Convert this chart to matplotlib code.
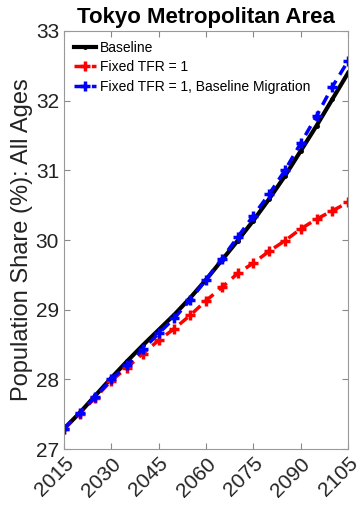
import matplotlib
matplotlib.use("Agg")
from matplotlib import pyplot as plt

plt.rcParams['font.family'] = ['Liberation Sans', 'DejaVu Sans']

years = list(range(2015, 2106, 5))
baseline = [27.29, 27.52, 27.77, 28.02, 28.26, 28.49, 28.71, 28.93, 29.17, 29.43,
            29.71, 29.99, 30.28, 30.59, 30.92, 31.28, 31.64, 32.02, 32.40]
fixed_tfr = [27.29, 27.51, 27.74, 27.98, 28.17, 28.37, 28.56, 28.73, 28.92, 29.13,
             29.32, 29.52, 29.67, 29.84, 29.99, 30.16, 30.30, 30.42, 30.54]
fixed_tfr_mig = [27.29, 27.52, 27.75, 28.00, 28.20, 28.43, 28.66, 28.88, 29.14, 29.43,
                 29.73, 30.04, 30.35, 30.66, 31.00, 31.39, 31.78, 32.20, 32.57]
xticks = list(range(2015, 2106, 15))

fig = plt.figure(figsize=(3.63, 5.08), dpi=100)
ax = fig.add_axes([0.176, 0.116, 0.783, 0.823])

ax.plot(years, baseline, '-', color='black', lw=3, marker='.', ms=5, label='Baseline')
ax.plot(years, fixed_tfr, '--', color='red', lw=2.5, marker='+', ms=7, mew=2.5,
        dashes=(3, 2), label='Fixed TFR = 1')
ax.plot(years, fixed_tfr_mig, '--', color='blue', lw=2.5, marker='+', ms=7, mew=2.5,
        dashes=(3, 2), label='Fixed TFR = 1, Baseline Migration')

ax.set_xlim(2015, 2105)
ax.set_ylim(27, 33)
ax.set_xticks(xticks)
ax.set_xticklabels([str(x) for x in xticks], rotation=45, ha='right', rotation_mode='anchor')
ax.tick_params(direction='in', top=True, right=True, labelsize=15, color='#888888',
               length=4, labelcolor='#222222')
for s in ax.spines.values():
    s.set_color('#999999')
ax.set_ylabel('Population Share (%): All Ages', fontsize=17, color='#222222', labelpad=2)
ax.set_title('Tokyo Metropolitan Area', fontsize=16, fontweight='bold', pad=6)
ax.legend(loc='upper left', frameon=False, fontsize=10, handlelength=1.6,
          handletextpad=0.3, labelspacing=0.4, borderaxespad=0.3)

fig.savefig('out.png', dpi=100)
